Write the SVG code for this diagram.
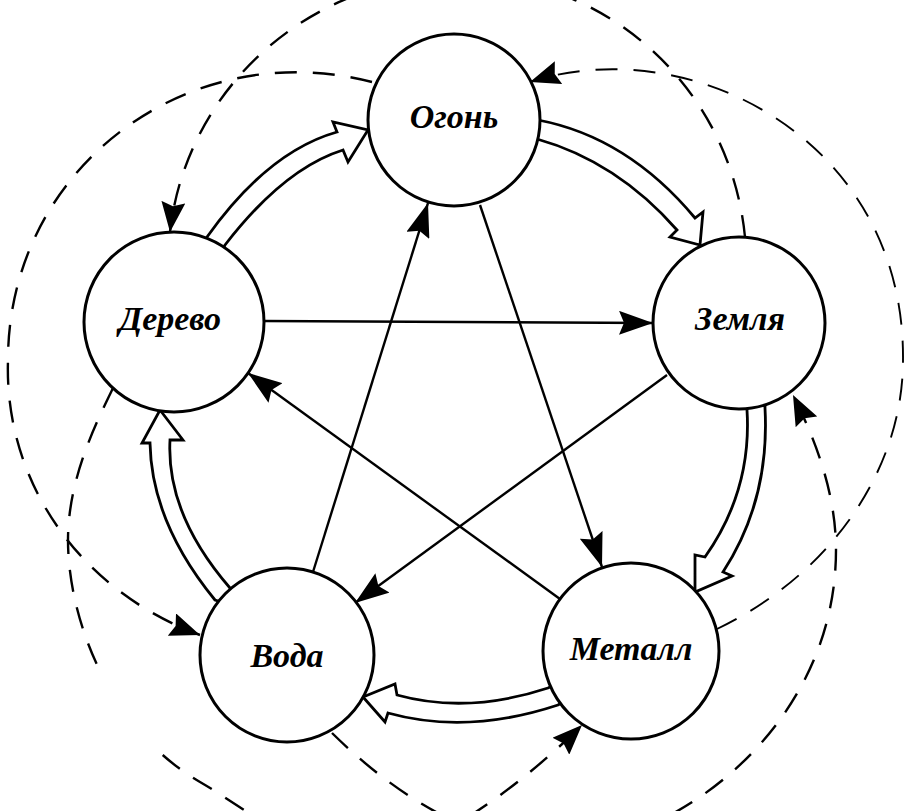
<svg xmlns="http://www.w3.org/2000/svg" width="905" height="811" viewBox="0 0 905 811">
<style>
.node circle{fill:#fff;stroke:#000;stroke-width:3}
.node text{font-family:"Liberation Serif","Times New Roman",serif;font-weight:bold;font-style:italic;font-size:34px;text-anchor:middle;fill:#000}
.ctrl{fill:none;stroke:#000;stroke-width:2.4;marker-end:url(#sh)}
.gen{fill:#fff;stroke:#000;stroke-width:2.8;stroke-linejoin:miter}
.insult{fill:none;stroke:#000;stroke-width:2.4;stroke-dasharray:22 16;marker-end:url(#dh)}
</style>
<defs>
<marker id="sh" markerUnits="userSpaceOnUse" viewBox="0 0 34 24" markerWidth="34" markerHeight="24" refX="34" refY="12" orient="auto">
<path d="M0,0 L34,12 L0,24 L5,12 Z" fill="#000"/>
</marker>
<marker id="dh" markerUnits="userSpaceOnUse" viewBox="0 0 30 24" markerWidth="30" markerHeight="24" refX="30" refY="12" orient="auto">
<path d="M0,0 L30,12 L0,24 L4,12 Z" fill="#000"/>
</marker>
</defs>
<g id="connectors">
<!-- outer dashed cycle -->
<path class="insult" d="M745,237 C730.5,89 608.7,-24 460,-24 C312.8,-24 186.6,85.7 170,232"/>
<path class="insult" style="stroke-width:1.9" d="M717,629 C830,575 903,470 903,360 C905,140 690,30 530,82"/>
<path class="insult" d="M332,733 C390,790 470,846 560,846 C670,846 836,730 836,550 C836,490 813,435 793,395"/>
<path class="insult" d="M113,388 C95,425 68,480 68,540 C68,580 78.5,627.5 100.25,671.5 M162.7,755 C174.1,765.1 186.5,774.2 200,782 C245,808 300,856 360,856 C440,856 545,762 582,725"/>
<path class="insult" d="M372,82 C187,34 8,169 8,360 C4,480 78,590 200,635"/>
<!-- straight control arrows -->
<path class="ctrl" d="M264,321 L653,323"/>
<path class="ctrl" d="M480,205 L602,567"/>
<path class="ctrl" d="M560,599 L248,373"/>
<path class="ctrl" d="M667,375 L355,603"/>
<path class="ctrl" d="M313,572 L428,203"/>
<!-- hollow generating arrows -->
<path class="gen" d="M200,250 L207,237 Q268,151.5 337,132 L333,122 L368,130 L348,162 L343,150 Q284,168.5 225,245 L218,258 Z"/>
<path class="gen" d="M528,118 L538,120 Q627.5,137 695,218 L703,212 L700,245 L670,237 L677,230 Q617,161.5 537,139 L527,140 Z"/>
<path class="gen" d="M765,398 L765,408 Q770,500 723,572 L732,576 L695,592 L695,555 L705,557 Q752,490.5 747,410 L747,400 Z"/>
<path class="gen" d="M556,684 L548,688 Q467.5,714.5 397,695 L395,684 L363,697 L385,722 L388,713 Q467,735 558,705 L566,700 Z"/>
<path class="gen" d="M228,604 L215,600 Q151.5,522.5 150,443 L142,443 L160,410 L183,440 L170,440 Q166,514 230,588 L240,596 Z"/>
</g>
<g id="node-ogon" class="node"><circle cx="454" cy="120" r="86"/><text x="454" y="128">Огонь</text></g>
<g id="node-derevo" class="node"><circle cx="174" cy="322" r="90"/><text x="170" y="330">Дерево</text></g>
<g id="node-zemlya" class="node"><circle cx="739" cy="323" r="86"/><text x="740" y="330">Земля</text></g>
<g id="node-voda" class="node"><circle cx="287" cy="655" r="87"/><text x="287" y="667">Вода</text></g>
<g id="node-metall" class="node"><circle cx="631" cy="651" r="88"/><text x="631" y="660">Металл</text></g>
</svg>
